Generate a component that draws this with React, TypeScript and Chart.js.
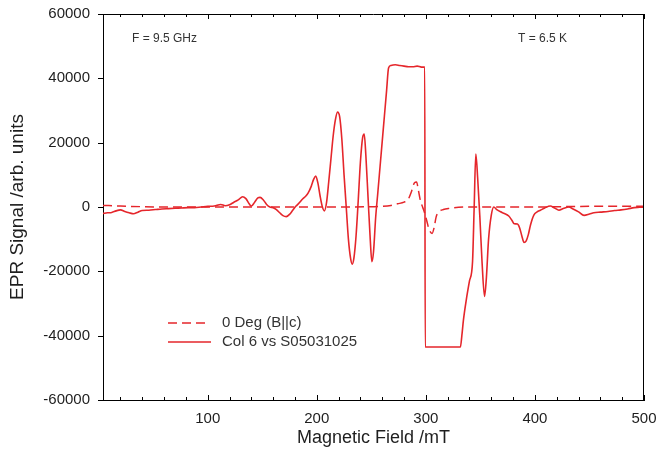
import React, { useEffect, useRef } from "react";
import { Chart, registerables } from "chart.js";

Chart.register(...registerables);

// Field axis (mT) and EPR signal (arb. units) for the measured trace
const solidField = [
  4, 8, 12, 16, 20, 24, 28, 32, 36, 40, 46, 52, 58, 64, 70, 76, 82, 88, 94, 100,
  106, 112, 116, 120, 124, 128, 132, 135, 138, 140, 143, 146, 148, 151, 154, 157,
  160, 163, 166, 169, 172, 175, 178, 181, 184, 187, 190, 192, 195, 197, 199, 201,
  203, 205, 207, 209, 211, 213, 215, 217, 219, 221, 223, 225, 227, 229, 231, 232.5,
  234, 236, 238, 240, 242, 243.5, 245, 247, 249, 250.5, 252, 254, 256, 258, 260,
  262, 264, 265.8, 268, 272, 276, 280, 284, 288, 292, 296, 299, 299.4, 303, 310,
  318, 326, 331.7, 333, 334.5, 337, 340, 342.8, 344.3, 345.8, 347.5, 349.5, 351.5,
  353.8, 355.5, 357.5, 360, 362.3, 365, 368.5, 372, 376, 379, 381, 384, 386, 388,
  390, 392, 394, 396, 399, 402, 405, 409, 414, 418, 422, 426, 431, 435, 440, 445,
  450, 454, 460, 467, 473, 479, 485, 491, 496, 500,
];
const solidSignal = [
  -2000, -1800, -1700, -1200, -900, -1400, -1800, -2100, -1600, -1100, -1000, -800,
  -600, -500, -400, -300, -200, -200, 0, 200,
  300, 800, 400, 700, 1500, 2200, 3200, 2600, 1000, 300, 1500, 2800, 3000, 2200, 800, 0,
  -200, -800, -1800, -2700, -3000, -2300, -1000, 300, 1300, 2500, 3400, 4300, 6500, 8500, 9600, 7500,
  3500, 200, -1200, 1500, 8000, 15000, 22000, 27000, 29500, 28000, 21000, 10000, 0, -10000, -16000, -17800,
  -16000, -9000, 2000, 14000, 21500, 22700, 16000, 3000, -10000, -17000, -14000, -3200, 4600, 12500, 20400,
  28300, 36200, 43200, 44000, 44200, 44000, 43800, 43600, 43600, 43800, 43500, 43500, -43500, -43500, -43500,
  -43500, -43500, -43500, -40000, -35000, -29000, -23000, -17000, 0, 16500, 9000, -3000, -17000,
  -27800, -22000, -10000, -2500, 0, -800, -1500, -2000, -2800, -4200, -5200, -5300, -6500, -9000,
  -11000, -10500, -8500, -5500, -2500, -1500, -1000, -300, 300, -300, -1000, -500, 0, -600, -1500, -2600,
  -2200, -1800, -1600, -1400, -1100, -900, -600, -200, -100, 0,
];

// Reference orientation, B parallel to c
const dashedField = [
  4, 20, 40, 60, 100, 150, 200, 230, 250, 260, 268, 274, 280, 284, 287, 289.5, 291.5,
  293, 295, 297, 299, 301, 303, 305.7, 307.5, 309.5, 312, 316, 322, 330, 340, 400, 450, 500,
];
const dashedSignal = [
  500, 300, 100, 0, 0, 0, 0, 0, 100, 200, 500, 1000, 1500, 2500, 5000, 7500, 7800,
  5500, 2000, 0, -2000, -4500, -7000, -8200, -6500, -3000, -1500, -800, -400, -100, 0, 0, 200, 200,
];

const fieldLabels = [100, 200, 300, 400, 500];
const signalTicks = [-60000, -40000, -20000, 0, 20000, 40000, 60000];

const seriesNames = ["0 Deg (B||c)", "Col 6 vs S05031025"];
const notes = ["F = 9.5 GHz", "T = 6.5 K"];

const RED = "#e5262b";
const FONT = "'Liberation Sans', Arial, sans-serif";
const TEXT = "#1e1e1e";

const toPoints = (xs: number[], ys: number[]) => xs.map((x, i) => ({ x, y: ys[i] }));

// Box frame: inward ticks on top/bottom edges, outward ticks on the left edge
const framePlugin = {
  id: "frame",
  afterDatasetsDraw(chart: any) {
    const { ctx, chartArea: a, scales } = chart;
    const xs = scales.x;
    const ys = scales.y;
    ctx.save();
    ctx.strokeStyle = "#000";
    ctx.lineWidth = 1;
    ctx.beginPath();
    ctx.moveTo(a.left, Math.round(a.top) + 0.5);
    ctx.lineTo(a.right, Math.round(a.top) + 0.5);
    ctx.moveTo(Math.round(a.right) - 0.5, a.top);
    ctx.lineTo(Math.round(a.right) - 0.5, a.bottom);
    for (let v = 20; v <= 500; v += 20) {
      const px = Math.round(xs.getPixelForValue(v)) + 0.5;
      const len = v % 100 === 0 ? 5 : 3;
      ctx.moveTo(px, a.bottom);
      ctx.lineTo(px, a.bottom - len);
      ctx.moveTo(px, a.top);
      ctx.lineTo(px, a.top + len);
    }
    for (const v of signalTicks) {
      const py = Math.round(ys.getPixelForValue(v)) + 0.5;
      ctx.moveTo(a.left - 5, py);
      ctx.lineTo(a.left, py);
    }
    ctx.stroke();

    ctx.fillStyle = "#333";
    ctx.font = `12px ${FONT}`;
    ctx.textBaseline = "middle";
    ctx.textAlign = "left";
    ctx.fillText(notes[0], 132, 39);
    ctx.fillText(notes[1], 518, 39);
    ctx.restore();
  },
};

// Legend inside the plot, lower left
const legendPlugin = {
  id: "insideLegend",
  afterDatasetsDraw(chart: any) {
    const { ctx } = chart;
    ctx.save();
    ctx.font = `15px ${FONT}`;
    ctx.textBaseline = "middle";
    chart.data.datasets.forEach((ds: any, i: number) => {
      const y = 323 + i * 19;
      ctx.strokeStyle = ds.borderColor;
      ctx.lineWidth = 1.5;
      ctx.setLineDash(ds.borderDash || []);
      ctx.beginPath();
      ctx.moveTo(168, y);
      ctx.lineTo(ds.borderDash ? 205 : 211, y);
      ctx.stroke();
      ctx.setLineDash([]);
      ctx.fillStyle = "#333";
      ctx.fillText(ds.label, 222, y);
    });
    ctx.restore();
  },
};

export default function App() {
  const ref = useRef<HTMLCanvasElement>(null);

  useEffect(() => {
    if (!ref.current) return;
    const chart = new Chart(ref.current, {
      type: "line",
      data: {
        datasets: [
          {
            label: seriesNames[0],
            data: toPoints(dashedField, dashedSignal),
            borderColor: RED,
            borderWidth: 1.5,
            borderDash: [9, 5],
            pointRadius: 0,
            cubicInterpolationMode: "monotone",
          },
          {
            label: seriesNames[1],
            data: toPoints(solidField, solidSignal),
            borderColor: RED,
            borderWidth: 1.6,
            pointRadius: 0,
            cubicInterpolationMode: "monotone",
          },
        ],
      },
      options: {
        animation: false,
        responsive: false,
        layout: { padding: { left: 0, top: 14, right: 14, bottom: 0 } },
        plugins: {
          legend: { display: false },
          tooltip: { enabled: false },
        },
        scales: {
          x: {
            type: "linear",
            min: 4,
            max: 500,
            afterFit: (s: any) => {
              s.height = 63;
            },
            afterBuildTicks: (s: any) => {
              s.ticks = fieldLabels.map((v) => ({ value: v }));
            },
            grid: {
              display: true,
              drawOnChartArea: false,
              drawTicks: true,
              tickLength: 10,
              tickColor: "rgba(0,0,0,0)",
            },
            border: { display: true, color: "#000", width: 1 },
            ticks: {
              padding: 0,
              maxRotation: 0,
              autoSkip: false,
              color: TEXT,
              font: { family: FONT, size: 15 },
              callback: (v: any) => String(v),
            },
            title: {
              display: true,
              text: "Magnetic Field /mT",
              color: TEXT,
              font: { family: FONT, size: 18 },
              padding: { top: 0, bottom: 14 },
            },
          },
          y: {
            min: -60000,
            max: 60000,
            afterFit: (s: any) => {
              s.width = 103;
            },
            afterBuildTicks: (s: any) => {
              s.ticks = signalTicks.map((v) => ({ value: v }));
            },
            grid: {
              display: true,
              drawOnChartArea: false,
              drawTicks: true,
              tickLength: 13,
              tickColor: "rgba(0,0,0,0)",
            },
            border: { display: true, color: "#000", width: 1 },
            ticks: {
              padding: 0,
              color: TEXT,
              font: { family: FONT, size: 15 },
              callback: (v: any) => String(v),
            },
            title: {
              display: true,
              text: "EPR Signal /arb. units",
              color: TEXT,
              font: { family: FONT, size: 19 },
              padding: { top: 6, bottom: 0 },
            },
          },
        },
      },
      plugins: [framePlugin, legendPlugin],
    });
    return () => chart.destroy();
  }, []);

  return (
    <div style={{ position: "fixed", left: 0, top: 0, width: 658, height: 463, background: "#fff" }}>
      <canvas ref={ref} width={658} height={463} style={{ display: "block" }} />
    </div>
  );
}
